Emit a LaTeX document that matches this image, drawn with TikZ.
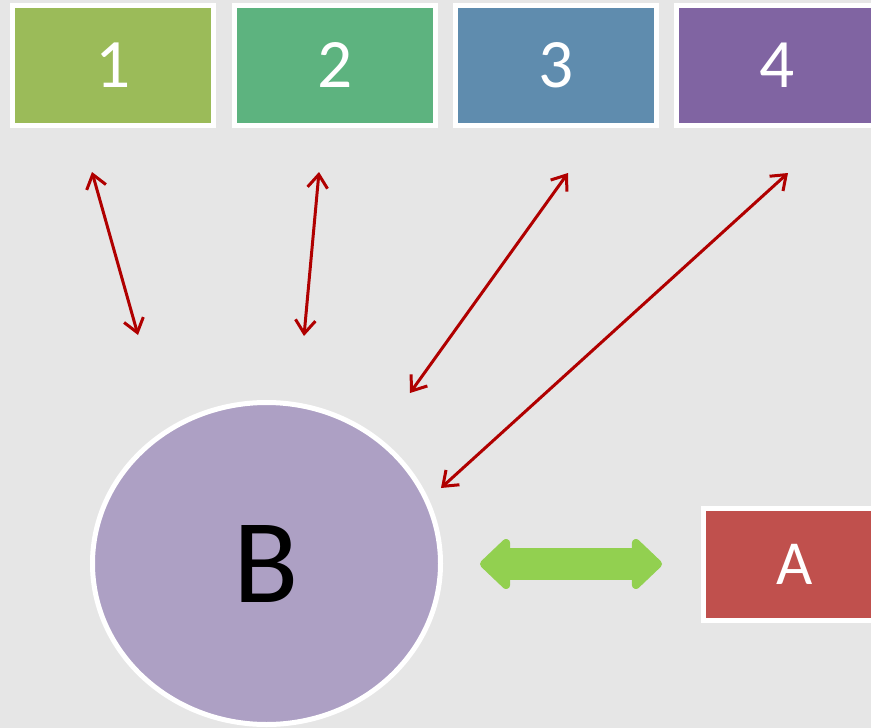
\documentclass[tikz,border=0pt]{standalone}
\usepackage{fontspec}
\setmainfont{Carlito}
\usetikzlibrary{arrows.meta,shapes.geometric}
\definecolor{bgcol}{RGB}{230,230,230}
\definecolor{c1}{HTML}{9BBB59}
\definecolor{c2}{HTML}{5DB37F}
\definecolor{c3}{HTML}{5F8CAE}
\definecolor{c4}{HTML}{8064A2}
\definecolor{cA}{HTML}{C0504D}
\definecolor{cB}{HTML}{ADA0C4}
\definecolor{dblgreen}{HTML}{92D050}
\definecolor{linkred}{HTML}{B00000}
\tikzset{
    box/.style={rectangle, draw=white, line width=3.75pt, minimum width=150.75pt, minimum height=90pt,
        inner sep=0pt, text=white, font=\fontsize{52}{60}\selectfont},
    hub/.style={ellipse, draw=white, line width=3.75pt, fill=cB, minimum width=261pt, minimum height=241.5pt,
        inner sep=0pt, font=\fontsize{90}{100}\selectfont},
    link/.style={draw=linkred, line width=2.25pt,
        {Straight Barb[length=10pt,width=15pt,line width=2.25pt]}-{Straight Barb[length=10pt,width=15pt,line width=2.25pt]}},
    wide link/.style={draw=dblgreen, line width=24pt,
        {Triangle[length=24pt,width=44pt,round]}-{Triangle[length=24pt,width=44pt,round]}}
}

\begin{document}
\begin{tikzpicture}[x=0.75pt, y=-0.75pt]
        \useasboundingbox (0,0) rectangle (871,728);
        \clip (0,0) rectangle (871,728);
        \fill[bgcol] (0,0) rectangle (871,728);
        % top row
        \node (n1) [box, fill=c1] at (113, 65.5) {1};
        \node (n2) [box, fill=c2] at (335, 65.5) {2};
        \node (n3) [box, fill=c3] at (556, 65.5) {3};
        \node (n4) [box, fill=c4] at (777, 65.5) {4};
        % hub and A
        \node (hb) [hub] at (266.5, 563.5) {B};
        \node (na) [box, fill=cA, minimum width=137pt, minimum height=84pt, font=\fontsize{47}{55}\selectfont] at (795, 564.5) {A};
        % free ends of the links
        \coordinate (t1) at (92, 172);
        \coordinate (b1) at (138, 335);
        \coordinate (t2) at (319, 172);
        \coordinate (b2) at (304, 336);
        \coordinate (t3) at (568, 173);
        \coordinate (b3) at (410, 393);
        \coordinate (t4) at (788, 173);
        \coordinate (b4) at (441, 488);
        \coordinate (gl) at (480, 564);
        \coordinate (gr) at (662, 564);
        \draw (t1) edge [link] (b1);
        \draw (t2) edge [link] (b2);
        \draw (t3) edge [link] (b3);
        \draw (t4) edge [link] (b4);
        \draw (gl) edge [wide link] (gr);
\end{tikzpicture}
\end{document}
